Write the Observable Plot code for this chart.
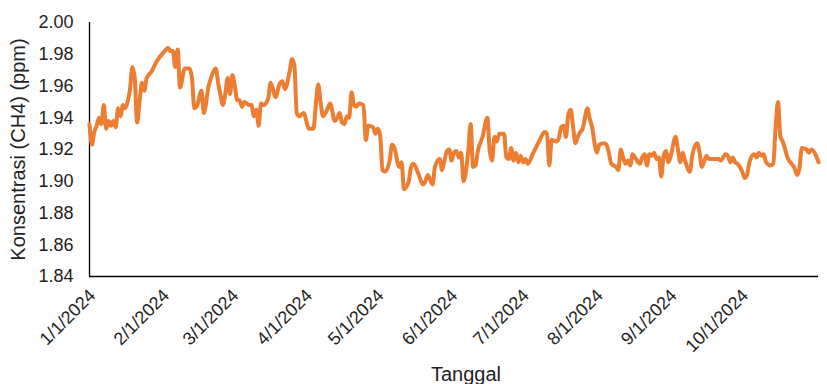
<!DOCTYPE html>
<html><head><meta charset="utf-8">
<script src="https://cdn.jsdelivr.net/npm/d3@7"></script>
<script src="https://cdn.jsdelivr.net/npm/@observablehq/plot@0.6"></script>
<style>
html,body{margin:0;padding:0;background:#fff;}
g[aria-label="x-axis label"] text, g[aria-label="y-axis label"] text {font-size:20px;}
</style></head><body><div id="chart"></div>
<script>
const year = 2024;
const dates = [
 "1/1","1/2","1/3","1/4","1/5","1/6","1/7","1/8","1/9","1/10","1/11","1/12","1/13","1/14","1/15","1/16","1/17","1/18","1/19","1/20","1/21","1/22","1/23","1/24","1/25","1/27","1/29",
 "2/1","2/3","2/4","2/5","2/6","2/7","2/8","2/10","2/12","2/13","2/14","2/15","2/17","2/18","2/20","2/21","2/23","2/24","2/25","2/26","2/27","2/28","2/29",
 "3/1","3/2","3/3","3/4","3/5","3/6","3/8","3/9","3/10","3/11","3/12","3/13","3/14","3/16","3/17","3/18","3/19","3/21","3/22","3/23","3/25","3/26","3/27","3/28","3/29","3/31",
 "4/1","4/2","4/4","4/5","4/6","4/7","4/8","4/10","4/11","4/13","4/14","4/15","4/16","4/17","4/18","4/19","4/20","4/21","4/22","4/23","4/25","4/26","4/27","4/29","4/30",
 "5/1","5/2","5/3","5/4","5/6","5/7","5/8","5/10","5/11","5/12","5/14","5/15","5/16","5/18","5/20","5/21","5/22","5/24","5/25","5/27","5/28","5/29","5/30","5/31",
 "6/1","6/2","6/3","6/4","6/5","6/6","6/8","6/9","6/10","6/11","6/12","6/14","6/16","6/17","6/18","6/19","6/20","6/21","6/23","6/24","6/25","6/26","6/27","6/28","6/29","6/30",
 "7/1","7/2","7/3","7/5","7/8","7/10","7/11","7/12","7/13","7/15","7/16","7/17","7/18","7/19","7/20","7/21","7/22","7/23","7/24","7/25","7/26","7/28","7/29","7/30","7/31",
 "8/1","8/2","8/4","8/5","8/6","8/7","8/9","8/10","8/11","8/12","8/13","8/14","8/15","8/16","8/17","8/19","8/20","8/21","8/22","8/23","8/24","8/25","8/26","8/27","8/28","8/29","8/30","8/31",
 "9/1","9/3","9/4","9/5","9/6","9/7","9/9","9/10","9/12","9/13","9/14","9/16","9/17","9/19","9/21","9/22","9/24","9/25","9/26","9/27","9/28","9/29",
 "10/1","10/2","10/3","10/4","10/6","10/7","10/8","10/9","10/10","10/11","10/13","10/14","10/15","10/16","10/17","10/18","10/20","10/23","10/24","10/25","10/26","10/28","10/29","10/30",
 "11/1","11/2"
];
const ch4 = [
 1.936,1.923,1.931,1.935,1.940,1.936,1.948,1.933,1.938,1.935,1.938,1.934,1.946,1.941,1.948,1.946,1.950,1.958,1.972,1.965,1.937,1.950,1.962,1.957,1.965,1.969,1.975,
 1.981,1.984,1.982,1.982,1.972,1.983,1.959,1.971,1.971,1.965,1.946,1.947,1.957,1.943,1.960,1.965,1.971,1.962,1.954,1.948,1.955,1.965,1.955,
 1.967,1.960,1.951,1.951,1.947,1.950,1.948,1.948,1.941,1.945,1.935,1.949,1.948,1.952,1.962,1.958,1.953,1.962,1.963,1.958,1.969,1.977,1.973,1.943,1.941,1.943,
 1.938,1.933,1.933,1.948,1.961,1.950,1.941,1.946,1.949,1.938,1.940,1.943,1.937,1.936,1.941,1.940,1.956,1.948,1.947,1.949,1.948,1.926,1.935,1.934,1.930,
 1.933,1.929,1.907,1.906,1.913,1.923,1.921,1.909,1.912,1.895,1.900,1.909,1.911,1.905,1.898,1.900,1.904,1.898,1.909,1.914,1.907,1.913,1.919,1.920,
 1.913,1.918,1.919,1.915,1.918,1.900,1.919,1.936,1.909,1.910,1.919,1.928,1.940,1.919,1.913,1.928,1.925,1.930,1.930,1.915,1.914,1.921,1.913,1.918,1.912,1.916,
 1.912,1.914,1.911,1.917,1.926,1.931,1.930,1.910,1.926,1.925,1.927,1.934,1.935,1.928,1.942,1.945,1.934,1.924,1.928,1.931,1.933,1.946,1.939,1.934,1.924,
 1.918,1.923,1.924,1.923,1.918,1.911,1.909,1.907,1.920,1.915,1.911,1.913,1.910,1.917,1.915,1.911,1.915,1.917,1.910,1.917,1.916,1.918,1.914,1.915,1.903,1.916,1.919,1.912,
 1.916,1.928,1.920,1.912,1.918,1.913,1.906,1.916,1.924,1.919,1.909,1.916,1.914,1.914,1.914,1.913,1.917,1.916,1.912,1.915,1.912,1.911,
 1.906,1.902,1.904,1.912,1.917,1.915,1.918,1.916,1.917,1.912,1.910,1.911,1.934,1.950,1.928,1.925,1.915,1.908,1.904,1.908,1.921,1.920,1.918,1.920,
 1.916,1.912
];
const xTicks = ["1/1","2/1","3/1","4/1","5/1","6/1","7/1","8/1","9/1","10/1"];
const yTicks = [1.84,1.86,1.88,1.90,1.92,1.94,1.96,1.98,2.00];
const xStart = "1/1", xEnd = "11/2";
const xTitle = "Tanggal";
const yTitle = "Konsentrasi (CH4) (ppm)";

const parse = s => { const [m, d] = s.split("/").map(Number); return new Date(Date.UTC(year, m - 1, d)); };
const data = dates.map((s, i) => ({date: parse(s), value: ch4[i]}));

const chart = Plot.plot({
  width: 827, height: 384,
  marginLeft: 89, marginRight: 9, marginTop: 22, marginBottom: 108,
  style: {fontFamily: "'Liberation Sans', Arial, sans-serif", fontSize: "18px", color: "#222", background: "#fff", overflow: "visible"},
  x: {type: "utc", domain: [parse(xStart), parse(xEnd)]},
  y: {domain: [yTicks[0], yTicks[yTicks.length - 1]]},
  marks: [
    Plot.axisY({ticks: yTicks, tickFormat: d3.format(".2f"), tickSize: 0, tickPadding: 16,
      label: yTitle, labelAnchor: "center", labelArrow: "none", labelOffset: 79}),
    Plot.axisX({ticks: xTicks.map(parse), tickFormat: d3.utcFormat("%-m/%-d/%Y"), tickSize: 0, tickPadding: 16, dx: 3, tickRotate: -45,
      label: xTitle, labelAnchor: "center", labelArrow: "none", labelOffset: 104}),
    Plot.ruleX([parse(xStart)], {stroke: "#000", strokeWidth: 1.3}),
    Plot.ruleY([yTicks[0]], {stroke: "#000", strokeWidth: 1.3}),
    Plot.line(data, {x: "date", y: "value", stroke: "#ED7D31", strokeWidth: 4, curve: "monotone-x", strokeLinejoin: "round"})
  ]
});
d3.select(chart).selectAll('g[aria-label="x-axis label"] text').attr("dx", 12);
document.getElementById("chart").appendChild(chart);
</script></body></html>
